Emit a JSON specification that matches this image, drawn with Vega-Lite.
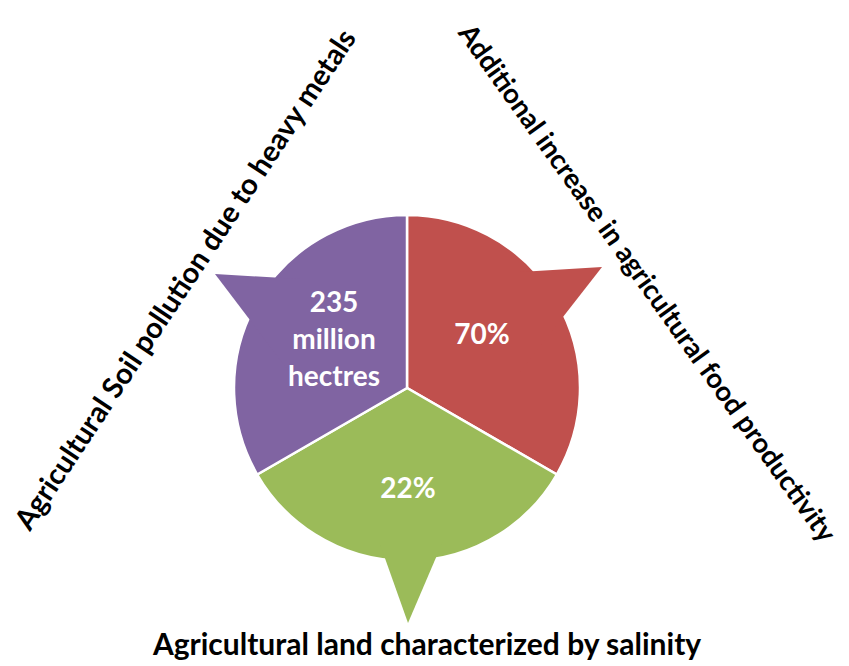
{
  "$schema": "https://vega.github.io/schema/vega-lite/v6.json",
  "width": 849,
  "height": 666,
  "autosize": "none",
  "padding": 0,
  "background": "white",
  "config": {"view": {"stroke": null}, "font": "Lato"},
  "datasets": {
    "segments": [
      {"category": "Additional increase in agricultural food productivity", "value": "70%", "share": 1, "order": 1},
      {"category": "Agricultural land characterized by salinity", "value": "22%", "share": 1, "order": 2},
      {"category": "Agricultural Soil pollution due to heavy metals", "value": "235\nmillion\nhectres", "share": 1, "order": 3}
    ]
  },
  "encoding": {
    "x": {"datum": 407, "type": "quantitative", "scale": {"domain": [0, 849], "nice": false, "zero": false}, "axis": null},
    "y": {"datum": 388, "type": "quantitative", "scale": {"domain": [0, 666], "nice": false, "zero": false, "reverse": true}, "axis": null}
  },
  "layer": [
    {
      "data": {"name": "segments"},
      "mark": {"type": "arc", "outerRadius": 173, "stroke": "white", "strokeWidth": 2.5},
      "encoding": {
        "theta": {"field": "share", "type": "quantitative", "stack": true},
        "order": {"field": "order", "type": "quantitative"},
        "color": {"field": "category", "type": "nominal", "legend": null,
          "scale": {"domain": ["Additional increase in agricultural food productivity", "Agricultural land characterized by salinity", "Agricultural Soil pollution due to heavy metals"],
                    "range": ["#C0504D", "#9BBB59", "#8064A2"]}}
      }
    },
    {
      "data": {"name": "segments"},
      "mark": {"type": "point", "filled": true, "opacity": 1, "size": 10000, "strokeWidth": 0},
      "encoding": {
        "color": {"field": "category", "type": "nominal", "legend": null,
          "scale": {"domain": ["Additional increase in agricultural food productivity", "Agricultural land characterized by salinity", "Agricultural Soil pollution due to heavy metals"],
                    "range": ["#C0504D", "#9BBB59", "#8064A2"]}},
        "shape": {"field": "category", "type": "nominal", "legend": null,
          "scale": {"domain": ["Additional increase in agricultural food productivity", "Agricultural land characterized by salinity", "Agricultural Soil pollution due to heavy metals"],
                    "range": ["M 3.9 -2.42 L 2.26 -2.32 L 2.26 -0.32 Z", "M 0.02 4.7 L -0.57 3.04 L 0.73 3.04 Z", "M -3.84 -2.28 L -2.14 -2.18 L -2.14 -0.04 Z"]}}
      }
    },
    {
      "data": {"name": "segments"},
      "transform": [{"filter": "datum.order == 1"}],
      "mark": {"type": "text", "fill": "white", "fontSize": 28, "fontWeight": "bold", "align": "center", "baseline": "middle"},
      "encoding": {
        "x": {"datum": 482, "type": "quantitative"},
        "y": {"datum": 336, "type": "quantitative"},
        "text": {"field": "value", "type": "nominal"}
      }
    },
    {
      "data": {"name": "segments"},
      "transform": [{"filter": "datum.order == 2"}],
      "mark": {"type": "text", "fill": "white", "fontSize": 28, "fontWeight": "bold", "align": "center", "baseline": "middle"},
      "encoding": {
        "x": {"datum": 408, "type": "quantitative"},
        "y": {"datum": 490, "type": "quantitative"},
        "text": {"field": "value", "type": "nominal"}
      }
    },
    {
      "data": {"name": "segments"},
      "transform": [{"filter": "datum.order == 3"}],
      "mark": {"type": "text", "fill": "white", "fontSize": 28, "fontWeight": "bold", "lineHeight": 37, "lineBreak": "\n", "align": "center", "baseline": "middle"},
      "encoding": {
        "x": {"datum": 334, "type": "quantitative"},
        "y": {"datum": 304, "type": "quantitative"},
        "text": {"field": "value", "type": "nominal"}
      }
    },
    {
      "data": {"name": "segments"},
      "transform": [{"filter": "datum.order == 3"}],
      "mark": {"type": "text", "angle": -56.5, "fontSize": 29, "fontWeight": "bold", "fill": "black", "align": "center", "baseline": "middle"},
      "encoding": {
        "x": {"datum": 186, "type": "quantitative"},
        "y": {"datum": 280, "type": "quantitative"},
        "text": {"field": "category", "type": "nominal"}
      }
    },
    {
      "data": {"name": "segments"},
      "transform": [{"filter": "datum.order == 1"}],
      "mark": {"type": "text", "angle": 54.5, "fontSize": 27.5, "fontWeight": "bold", "fill": "black", "align": "center", "baseline": "middle"},
      "encoding": {
        "x": {"datum": 646, "type": "quantitative"},
        "y": {"datum": 284, "type": "quantitative"},
        "text": {"field": "category", "type": "nominal"}
      }
    },
    {
      "data": {"name": "segments"},
      "transform": [{"filter": "datum.order == 2"}],
      "mark": {"type": "text", "angle": 0, "fontSize": 30, "fontWeight": "bold", "fill": "black", "align": "center", "baseline": "middle"},
      "encoding": {
        "x": {"datum": 427, "type": "quantitative"},
        "y": {"datum": 646, "type": "quantitative"},
        "text": {"field": "category", "type": "nominal"}
      }
    }
  ]
}
